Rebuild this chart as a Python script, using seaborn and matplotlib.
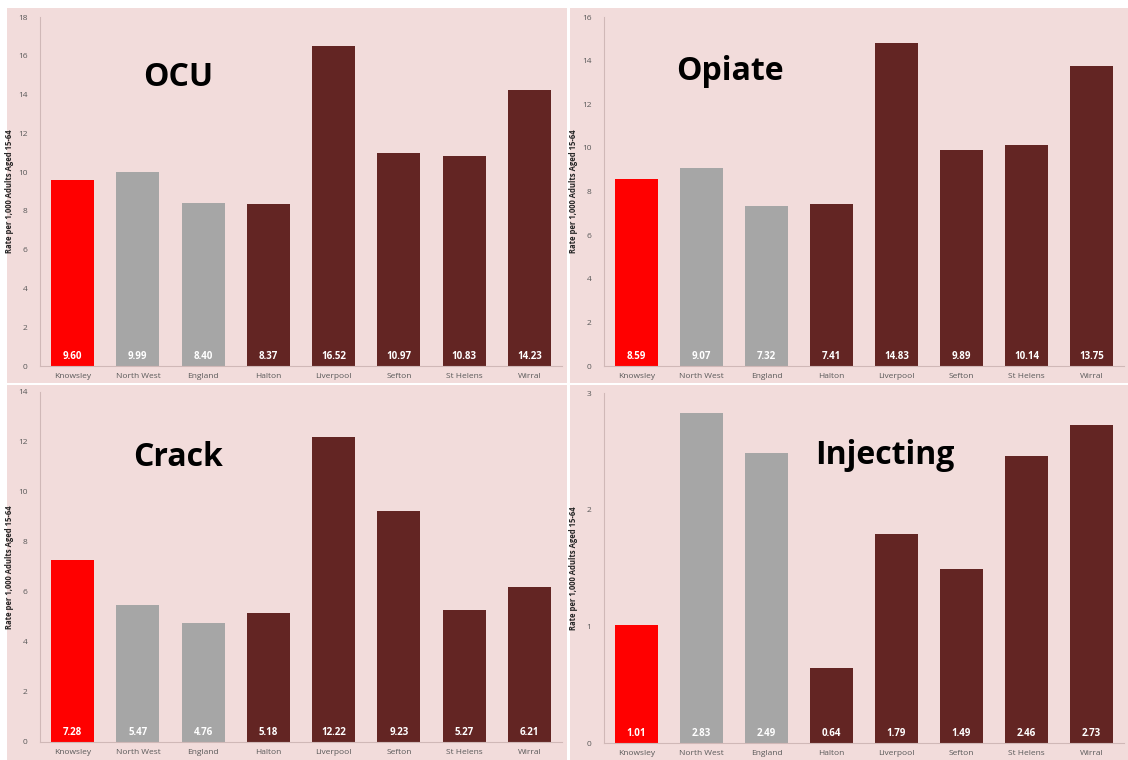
import numpy as np
import pandas as pd
import matplotlib.pyplot as plt
import seaborn as sns
from matplotlib.patches import Rectangle

sns.set_theme(style="white")
plt.rcParams['font.family'] = ['Open Sans', 'DejaVu Sans']

# Data
areas = ["Knowsley", "North West", "England", "Halton", "Liverpool", "Sefton", "St Helens", "Wirral"]
ocu = [9.60, 9.99, 8.40, 8.37, 16.52, 10.97, 10.83, 14.23]
opiate = [8.59, 9.07, 7.32, 7.41, 14.83, 9.89, 10.14, 13.75]
crack = [7.28, 5.47, 4.76, 5.18, 12.22, 9.23, 5.27, 6.21]
injecting = [1.01, 2.83, 2.49, 0.64, 1.79, 1.49, 2.46, 2.73]

bar_colors = ["#ff0000", "#a6a6a6", "#a6a6a6", "#632523", "#632523", "#632523", "#632523", "#632523"]
bg = "#f2dcdb"
W, H = 1128, 760

fig = plt.figure(figsize=(W / 100, H / 100), dpi=100)
fig.patch.set_facecolor("white")

def px_rect(x0, y0, x1, y1):
    return [x0 / W, 1 - y1 / H, (x1 - x0) / W, (y1 - y0) / H]

# pink panel backgrounds
for (x0, y0, x1, y1) in [(7, 8, 567, 383), (570, 8, 1128, 383), (7, 385, 567, 760), (570, 385, 1128, 760)]:
    r = px_rect(x0, y0, x1, y1)
    fig.patches.append(Rectangle((r[0], r[1]), r[2], r[3], transform=fig.transFigure,
                                 facecolor=bg, edgecolor="none", zorder=-10))

# name, values, y max, tick step, axes box (px), title centre (px), y-label x (px)
panels = [
    ("OCU", ocu, 18, 2, (40, 17, 562, 366), (178, 78), 14),
    ("Opiate", opiate, 16, 2, (604, 17, 1124, 366), (730, 72), 578),
    ("Crack", crack, 14, 2, (40, 392, 562, 742), (178, 457), 14),
    ("Injecting", injecting, 3, 1, (604, 393, 1124, 743), (885, 455), 578),
]

for name, vals, ymax, step, (x0, y0, x1, y1), (tx, ty), lx in panels:
    ax = fig.add_axes(px_rect(x0, y0, x1, y1))
    ax.set_facecolor("none")
    df = pd.DataFrame({"area": areas, "value": vals})
    sns.barplot(data=df, x="area", y="value", hue="area", palette=bar_colors,
                legend=False, width=0.66, ax=ax, saturation=1, linewidth=0)
    for i, v in enumerate(vals):
        ax.text(i, ymax * 0.012, f"{v:.2f}", ha="center", va="bottom",
                color="white", fontsize=7, fontweight="bold")
    ax.set_ylim(0, ymax)
    ax.set_xlim(-0.5, len(areas) - 0.5)
    ticks = np.arange(0, ymax + 0.01, step)
    ax.set_yticks(ticks)
    ax.set_yticklabels([f"{int(t)}" for t in ticks])
    ax.tick_params(axis="y", labelsize=6, colors="#595959", length=3, width=0.6, direction="out", pad=6)
    ax.tick_params(axis="x", labelsize=6, colors="#595959", length=0, pad=5)
    ax.set_xticks(np.arange(-0.5, len(areas), 1), minor=True)
    ax.tick_params(axis="x", which="minor", length=4, width=0.6, color="#d0b8b7", direction="out")
    ax.tick_params(axis="y", color="#d0b8b7")
    ax.set_xlabel("")
    ax.set_ylabel("Rate per 1,000 Adults Aged 15-64", fontsize=5.5, fontweight="bold")
    ax.yaxis.set_label_coords((lx - x0) / (x1 - x0), 0.5)
    for s in ["top", "right"]:
        ax.spines[s].set_visible(False)
    for s in ["left", "bottom"]:
        ax.spines[s].set_color("#d0b8b7")
        ax.spines[s].set_linewidth(0.8)
    fig.text(tx / W, 1 - ty / H, name, ha="center", va="center",
             fontsize=23, fontweight="bold", color="black")

fig.savefig("out.png", dpi=100)
